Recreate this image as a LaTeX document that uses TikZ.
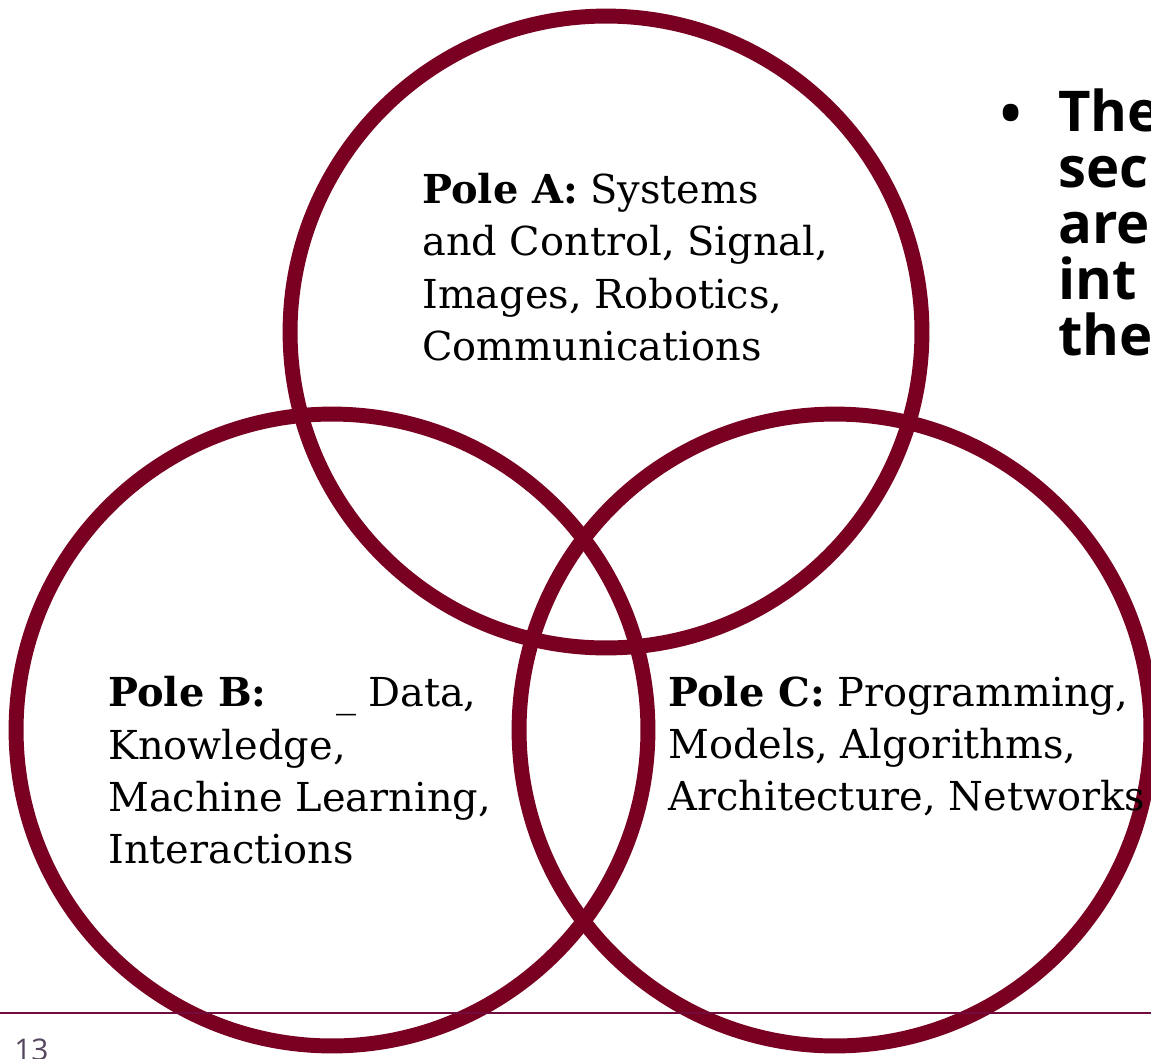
\documentclass[tikz,border=0pt]{standalone}
\usepackage{fontspec}
\setmainfont{DejaVu Serif}
\newfontfamily\slidefont{Open Sans}
\usetikzlibrary{positioning}
\definecolor{polered}{RGB}{122,0,34}
\definecolor{rulered}{RGB}{115,10,60}
\definecolor{pagegray}{RGB}{85,70,95}
\tikzset{
	polecircle/.style={circle, draw=polered, line width=8.5pt, minimum size=12.64cm, inner sep=0pt},
	poletext/.style={anchor=base west, align=left, inner sep=0pt, font=\fontsize{22.7}{29.6}\selectfont},
	slidetext/.style={anchor=base west, align=left, inner sep=0pt, font=\slidefont\bfseries\fontsize{32}{31.8}\selectfont}
}

\begin{document}
\begin{tikzpicture}[x=0.02cm, y=-0.02cm]
	\useasboundingbox (0,0) rectangle (1151,1058);
	\clip (0,0) rectangle (1151,1058);
	
	% the three poles
	\node[polecircle] at (606,332) (circA) {};
	\node[polecircle] at (332,730) (circB) {};
	\node[polecircle] at (835,730) (circC) {};
	
	% base anchor = baseline of the last line
	\node[poletext] at (422,360) (poleA) {\textbf{Pole A:} Systems\\and Control, Signal,\\Images, Robotics,\\Communications};
	\node[poletext] at (108,863) (poleB) {\textbf{Pole B:}\hspace{1.75em}\_\hspace{0.3em}Data,\\Knowledge,\\Machine Learning,\\Interactions};
	\node[poletext] at (668,810) (poleC) {\textbf{Pole C:} Programming,\\Models, Algorithms,\\Architecture, Networks};
	
	\node[slidetext] at (1000,133) (dot) {\textbullet};
	\node[slidetext] at (1058,355) (point) {The\\sec\\are\\int\\the};
	
	% slide footer
	\coordinate (ruleL) at (0,1013);
	\coordinate (ruleR) at (1151,1013);
	\draw[rulered, line width=1.2pt] (ruleL) -- (ruleR);
	\node[anchor=base west, inner sep=0pt, text=pagegray, font=\slidefont\fontsize{17}{20}\selectfont] at (14,1060) (pagenum) {13};
\end{tikzpicture}
\end{document}
